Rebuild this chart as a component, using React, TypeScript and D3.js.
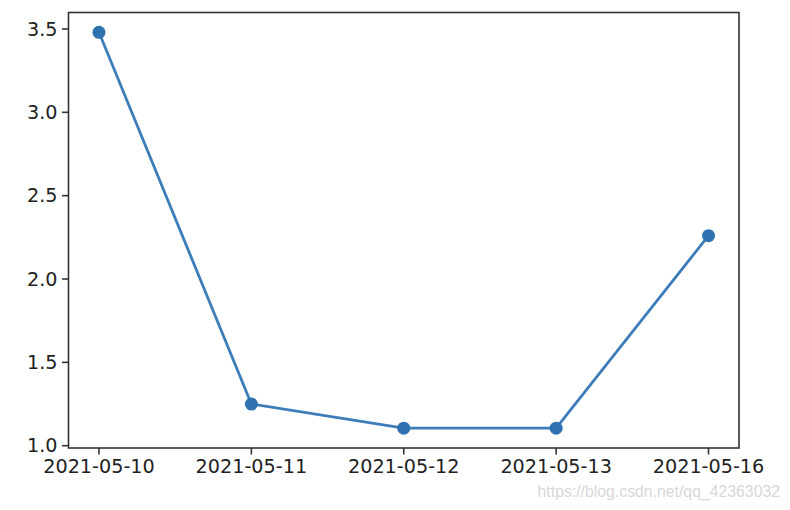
import React from "react";
import * as d3 from "d3";

const categories = ["2021-05-10", "2021-05-11", "2021-05-12", "2021-05-13", "2021-05-16"];
const values = [3.48, 1.25, 1.105, 1.105, 2.26];
const yTicks = [1.0, 1.5, 2.0, 2.5, 3.0, 3.5];
const watermark = "https://blog.csdn.net/qq_42363032";

const W = 790, H = 510;
const left = 68.5, right = 739, top = 12.5, bottom = 448;
const FONT = "'DejaVu Sans', sans-serif";
const FS = 19.2;
const COLOR = "#2f72b0";
const LINE = "#3d7dba";

export default function App() {
  const x = d3.scalePoint<string>().domain(categories).range([left, right]).padding(0.2);
  const vmin = d3.min(values)!, vmax = d3.max(values)!;
  const m = (vmax - vmin) * 0.05;
  const y = d3.scaleLinear().domain([vmin - m, vmax + m]).range([bottom, top]);
  const line = d3.line<number>().x((_, i) => x(categories[i])!).y((d) => y(d));
  return (
    <svg width={W} height={H} style={{ position: "absolute", left: 0, top: 0, background: "#fff" }}>
      <rect x={0} y={0} width={W} height={H} fill="#fff" />
      <path d={line(values)!} fill="none" stroke={LINE} strokeWidth={2.8} strokeLinejoin="round" />
      {values.map((v, i) => (
        <circle key={i} cx={x(categories[i])} cy={y(v)} r={6.5} fill={COLOR} />
      ))}
      <rect x={left} y={top} width={right - left} height={bottom - top} fill="none" stroke="#333" strokeWidth={1.6} />
      {yTicks.map((t) => (
        <g key={t} transform={`translate(${left},${y(t)})`}>
          <line x1={0} x2={-6.5} stroke="#333" strokeWidth={1.6} />
          <text x={-11} dy="0.35em" textAnchor="end" fontFamily={FONT} fontSize={FS} fill="#222">
            {t.toFixed(1)}
          </text>
        </g>
      ))}
      {categories.map((c) => (
        <g key={c} transform={`translate(${x(c)},${bottom})`}>
          <line y1={0} y2={6.5} stroke="#333" strokeWidth={1.6} />
          <text y={10.5} dy="0.76em" textAnchor="middle" fontFamily={FONT} fontSize={FS} fill="#222">
            {c}
          </text>
        </g>
      ))}
      <text x={780} y={497} textAnchor="end" fontFamily="'Liberation Sans', Arial, sans-serif" fontSize={15.8} fill="#d8d8d8">
        {watermark}
      </text>
    </svg>
  );
}
